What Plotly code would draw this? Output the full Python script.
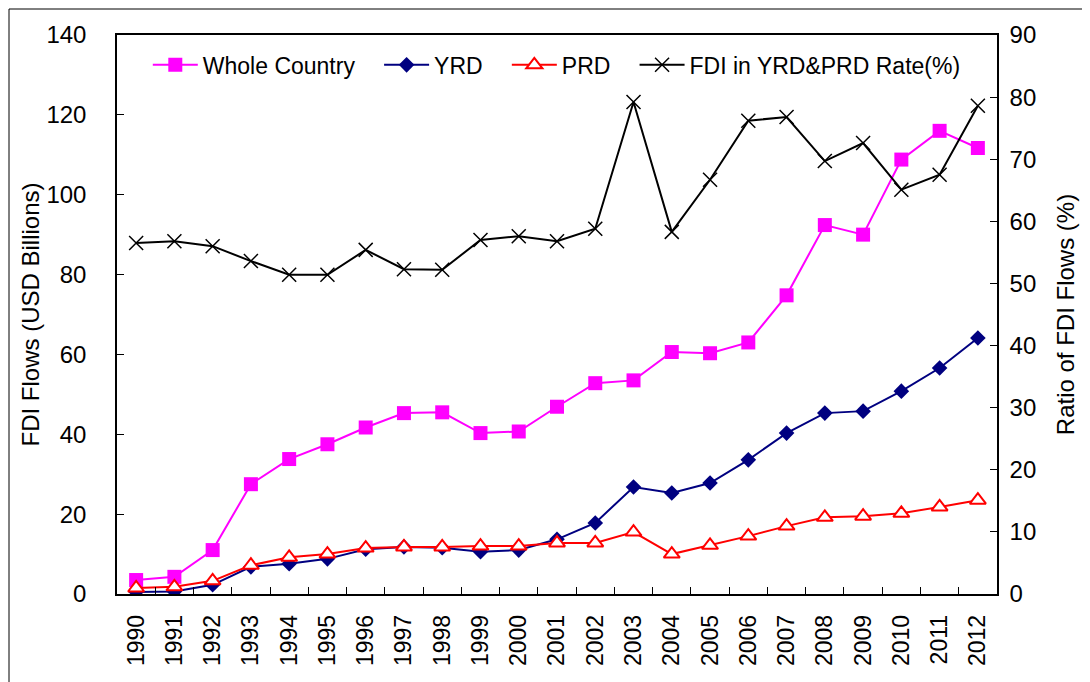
import plotly.graph_objects as go

years = [str(y) for y in range(1990, 2013)]
whole_country = [3.5, 4.3, 11.0, 27.5, 33.8, 37.5, 41.7, 45.3, 45.5, 40.3, 40.7, 46.9,
                 52.8, 53.5, 60.6, 60.3, 63.0, 74.8, 92.4, 90.0, 108.8, 116.0, 111.7]
yrd = [0.5, 0.6, 2.3, 6.8, 7.6, 8.8, 11.2, 11.8, 11.6, 10.6, 11.0, 13.7,
       17.8, 26.8, 25.3, 27.8, 33.6, 40.3, 45.3, 45.8, 50.8, 56.6, 64.1]
prd = [1.5, 1.8, 3.3, 7.2, 9.2, 10.0, 11.5, 11.8, 11.8, 12.0, 12.0, 12.8,
       12.8, 15.5, 10.0, 12.2, 14.5, 17.0, 19.2, 19.5, 20.2, 21.8, 23.5]
rate = [56.5, 56.8, 56.0, 53.6, 51.4, 51.4, 55.4, 52.3, 52.2, 57.0, 57.6, 56.8,
        58.8, 79.2, 58.3, 66.7, 76.2, 76.8, 69.7, 72.6, 65.1, 67.5, 78.6]

FONT = "Liberation Sans, Arial, sans-serif"
PAD = "\u00a0" * 3

fig = go.Figure()
fig.add_trace(go.Scatter(x=years, y=whole_country, name="Whole Country" + PAD, mode="lines+markers",
                         line=dict(color="#FF00FF", width=2),
                         marker=dict(symbol="square", size=14, color="#FF00FF")))
fig.add_trace(go.Scatter(x=years, y=yrd, name="YRD" + PAD, mode="lines+markers",
                         line=dict(color="#000080", width=2),
                         marker=dict(symbol="diamond", size=12, color="#000080")))
fig.add_trace(go.Scatter(x=years, y=prd, name="PRD" + PAD, mode="lines+markers",
                         line=dict(color="#FF0000", width=2),
                         marker=dict(symbol="triangle-up", size=14, color="white",
                                     line=dict(color="#FF0000", width=2))))
fig.add_trace(go.Scatter(x=years, y=rate, name="FDI in YRD&PRD Rate(%)", mode="lines+markers",
                         yaxis="y2",
                         line=dict(color="black", width=2),
                         marker=dict(symbol="x-thin", size=14, color="black",
                                     line=dict(color="black", width=1.5))))

W, H = 1090, 682
L, T = 109, 27
pw, ph = 880, 559
R = W - L - pw
B = H - T - ph

fig.update_layout(
    width=W, height=H,
    margin=dict(l=L, r=R, t=T, b=B, autoexpand=False),
    paper_bgcolor="white", plot_bgcolor="white",
    font=dict(family=FONT, size=22, color="black"),
    showlegend=True,
    legend=dict(orientation="h", x=0.035, y=0.985, xanchor="left", yanchor="top",
                bgcolor="rgba(0,0,0,0)", font=dict(size=23), itemwidth=45,
                tracegroupgap=0),
    xaxis=dict(type="category", range=[-0.5, 22.5], tickangle=-90,
               showline=True, linecolor="black", linewidth=1.5, mirror=True,
               ticks="inside", ticklen=7, tickcolor="black", tickson="boundaries",
               showgrid=False, tickfont=dict(size=23), ticklabelstandoff=10,
               automargin=False),
    yaxis=dict(range=[0, 140], dtick=20, showline=True, linecolor="black", linewidth=1.5,
               ticks="inside", ticklen=7, tickcolor="black", showgrid=False, zeroline=False,
               title=dict(text="FDI Flows (USD Billions)", font=dict(size=24), standoff=0),
               tickfont=dict(size=24), ticklabelstandoff=24, automargin=False),
    yaxis2=dict(range=[0, 90], dtick=10, overlaying="y", side="right",
                showline=True, linecolor="black", linewidth=1.5,
                ticks="inside", ticklen=7, tickcolor="black", showgrid=False, zeroline=False,
                title=dict(text="Ratio of FDI Flows (%)", font=dict(size=24), standoff=22),
                tickfont=dict(size=24), ticklabelstandoff=6, automargin=False),
)

# outer chart-area border (figure edge)
fig.add_shape(type="rect", xref="paper", yref="paper",
              x0=(1 - L) / pw, x1=(W + 20 - L) / pw,
              y0=-(B + 20) / ph, y1=(ph + T - 1) / ph,
              line=dict(color="black", width=1), layer="below")

fig.write_html("out.html")
